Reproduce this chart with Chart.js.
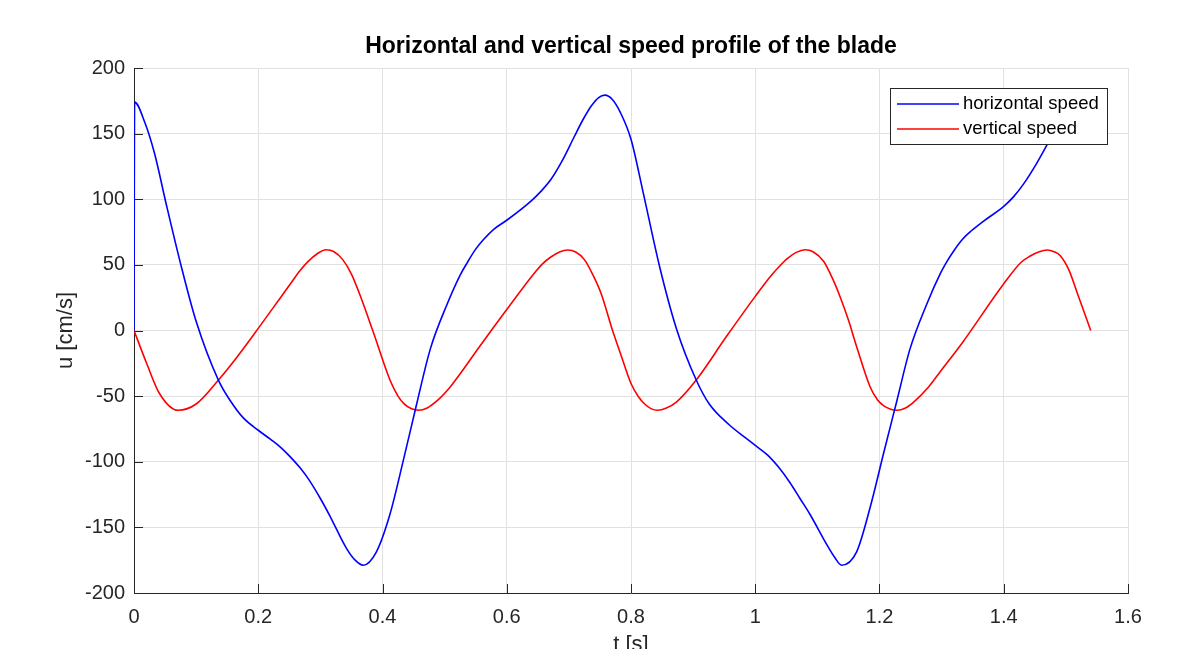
<!DOCTYPE html>
<html>
<head>
<meta charset="utf-8">
<title>Horizontal and vertical speed profile of the blade</title>
<script src="https://cdn.jsdelivr.net/npm/chart.js@4.4.1/dist/chart.umd.min.js"></script>
<style>
    html, body { margin: 0; padding: 0; background: #fff; overflow: hidden; }
    canvas { display: block; }
</style>
</head>
<body>
<canvas id="speed-chart" width="1197" height="649"></canvas>
<script>
// values (t in s, u in cm/s)
var tHorizontal = [0, 0.001, 0.017, 0.033, 0.052, 0.076, 0.1, 0.136, 0.155, 0.176,
    0.2, 0.22, 0.236, 0.25, 0.268, 0.282, 0.3, 0.315, 0.342, 0.356, 0.369,
    0.39, 0.412, 0.434, 0.455, 0.477, 0.504, 0.525, 0.536, 0.55, 0.563, 0.58, 0.6,
    0.639, 0.655, 0.671, 0.69, 0.709, 0.722, 0.736, 0.748, 0.758, 0.77,
    0.783, 0.8, 0.819, 0.846, 0.873, 0.905, 0.926, 0.958, 0.985, 1.0,
    1.02, 1.039, 1.056, 1.072, 1.088, 1.115, 1.128, 1.139, 1.163, 1.185,
    1.207, 1.228, 1.249, 1.276, 1.298, 1.307, 1.32, 1.334, 1.348, 1.366, 1.4, 1.416,
    1.432, 1.453, 1.47, 1.49, 1.505, 1.525, 1.54];
var uHorizontal = [0, 174, 159, 135, 96, 49, 7, -38, -53.5, -66.6,
    -76, -83, -89, -95.5, -105, -114, -128, -141, -166, -175, -178.8,
    -168.8, -140, -98, -56, -14, 20, 42.2, 51.4, 62, 69.5, 77.5, 84,
    98.6, 106, 115, 130, 148, 160, 171, 177.5, 179.3, 176,
    166, 145.7, 106.4, 48.8, 1.6, -37.7, -56, -71.8, -82, -87.5,
    -95, -105, -116, -128, -140, -163, -173, -178.8, -168.8, -134.7,
    -92.8, -53.5, -14.2, 20, 43.5, 51.4, 61, 69.7, 76, 82.8, 94.6, 102,
    111.7, 127.4, 141.8, 160, 171, 179, 175];

var tVertical = [0, 0.02, 0.041, 0.071, 0.1, 0.136, 0.165, 0.2, 0.236, 0.251,
    0.267, 0.28, 0.295, 0.309, 0.322, 0.336, 0.35, 0.363, 0.385, 0.412,
    0.425, 0.434, 0.446, 0.458, 0.472, 0.488, 0.509, 0.525, 0.552, 0.6,
    0.644, 0.658, 0.671, 0.685, 0.698, 0.711, 0.725, 0.738, 0.752, 0.771,
    0.783, 0.8, 0.812, 0.822, 0.832, 0.843, 0.857, 0.873, 0.905, 0.953,
    1.0, 1.024, 1.039, 1.052, 1.066, 1.08, 1.093, 1.11, 1.123, 1.137,
    1.15, 1.163, 1.185, 1.197, 1.207, 1.218, 1.228, 1.242, 1.255, 1.279,
    1.298, 1.334, 1.4, 1.428, 1.442, 1.456, 1.47, 1.481, 1.491, 1.505,
    1.518, 1.54];
var uVertical = [0, -24.6, -48, -60.8, -56, -37.7, -20.7, 1.6, 25.2, 35,
    45.5, 52.5, 58.5, 61.5, 60, 54, 43, 28, -1, -37.7,
    -50, -55.5, -59.5, -60.8, -59, -53.5, -43, -33, -15, 16,
    43.5, 51, 56, 59.8, 61.3, 59.8, 54, 43, 28, -1,
    -17.5, -40.4, -50.5, -56, -59.5, -60.8, -59, -54.5, -37.7, -5,
    26, 41, 49, 55, 59.5, 61.5, 60, 52.7, 41, 25.2,
    8, -12, -43, -53, -57.5, -60, -60.8, -59, -54.5, -43,
    -31.2, -8.9, 35.6, 52, 56.6, 59.8, 61.3, 60, 57, 46,
    29, 0];

var xTicks = [0, 0.2, 0.4, 0.6, 0.8, 1, 1.2, 1.4, 1.6];
var yTicks = [-200, -150, -100, -50, 0, 50, 100, 150, 200];

var seriesNames = ['horizontal speed', 'vertical speed'];

var FONT = "'Liberation Sans', Arial, Helvetica, sans-serif";
var AXIS_COLOR = '#262626';
var GRID_COLOR = '#e1e1e1';

function toPoints(ts, us) {
    return ts.map(function(t, i) { return {x: t, y: us[i]}; });
}

// matlab style ticks pointing into the plot
var inwardTicks = {
    id: 'inwardTicks',
    afterDatasetsDraw: function(chart) {
        var ctx = chart.ctx, area = chart.chartArea;
        ctx.save();
        ctx.strokeStyle = AXIS_COLOR;
        ctx.lineWidth = 1;
        ctx.beginPath();
        xTicks.forEach(function(v) {
            var px = Math.round(chart.scales.x.getPixelForValue(v)) + 0.5;
            ctx.moveTo(px, area.bottom);
            ctx.lineTo(px, area.bottom - 9);
        });
        yTicks.forEach(function(v) {
            var py = Math.round(chart.scales.y.getPixelForValue(v)) + 0.5;
            ctx.moveTo(area.left, py);
            ctx.lineTo(area.left + 9, py);
        });
        ctx.stroke();
        ctx.restore();
    }
};

// boxed legend in the upper right corner of the axes
var boxLegend = {
    id: 'boxLegend',
    afterDraw: function(chart) {
        var ctx = chart.ctx;
        var x0 = 890.5, y0 = 88.5, w = 217, h = 56;
        ctx.save();
        ctx.fillStyle = '#fff';
        ctx.fillRect(x0, y0, w, h);
        ctx.strokeStyle = AXIS_COLOR;
        ctx.lineWidth = 1;
        ctx.strokeRect(x0, y0, w, h);
        ctx.font = '18.5px ' + FONT;
        ctx.textBaseline = 'middle';
        ctx.textAlign = 'left';
        chart.data.datasets.forEach(function(ds, i) {
            var yy = 104 + i * 25;
            ctx.strokeStyle = ds.borderColor;
            ctx.lineWidth = 1.5;
            ctx.beginPath();
            ctx.moveTo(897, yy);
            ctx.lineTo(959, yy);
            ctx.stroke();
            ctx.fillStyle = '#000';
            ctx.fillText(ds.label, 963, yy);
        });
        ctx.restore();
    }
};

new Chart(document.getElementById('speed-chart'), {
    type: 'line',
    data: {
        datasets: [
            {
                label: seriesNames[0],
                data: toPoints(tHorizontal, uHorizontal),
                borderColor: '#0000ff',
                borderWidth: 1.6,
                pointRadius: 0,
                cubicInterpolationMode: 'monotone',
                fill: false
            },
            {
                label: seriesNames[1],
                data: toPoints(tVertical, uVertical),
                borderColor: '#ff0000',
                borderWidth: 1.6,
                pointRadius: 0,
                cubicInterpolationMode: 'monotone',
                fill: false
            }
        ]
    },
    options: {
        responsive: false,
        animation: false,
        devicePixelRatio: 1,
        layout: {padding: {left: 0, right: 69, top: 0, bottom: 0}},
        plugins: {
            legend: {display: false},
            tooltip: {enabled: false},
            title: {
                display: true,
                fullSize: false,
                text: 'Horizontal and vertical speed profile of the blade',
                color: '#000',
                font: {family: FONT, size: 23, weight: 'bold'},
                padding: {top: 33, bottom: 7.4}
            }
        },
        scales: {
            x: {
                type: 'linear',
                min: 0,
                max: 1.6,
                afterBuildTicks: function(scale) {
                    scale.ticks = xTicks.map(function(v) { return {value: v}; });
                },
                afterFit: function(scale) { scale.height = 56; },
                grid: {color: GRID_COLOR, drawTicks: false, lineWidth: 1},
                border: {color: AXIS_COLOR, width: 1},
                ticks: {color: AXIS_COLOR, padding: 12, maxRotation: 0,
                        font: {family: FONT, size: 20},
                        callback: function(v) { return String(v); }},
                title: {display: true, text: 't [s]', color: AXIS_COLOR,
                        font: {family: FONT, size: 22}, padding: {top: 0, bottom: -9}}
            },
            y: {
                type: 'linear',
                min: -200,
                max: 200,
                afterBuildTicks: function(scale) {
                    scale.ticks = yTicks.map(function(v) { return {value: v}; });
                },
                afterFit: function(scale) { scale.width = 134; },
                grid: {color: GRID_COLOR, drawTicks: false, lineWidth: 1},
                border: {color: AXIS_COLOR, width: 1},
                ticks: {color: AXIS_COLOR, padding: 9,
                        font: {family: FONT, size: 20}},
                title: {display: true, text: 'u [cm/s]', color: AXIS_COLOR,
                        font: {family: FONT, size: 22}, padding: {top: 53, bottom: 0}}
            }
        }
    },
    plugins: [inwardTicks, boxLegend]
});
</script>
</body>
</html>
